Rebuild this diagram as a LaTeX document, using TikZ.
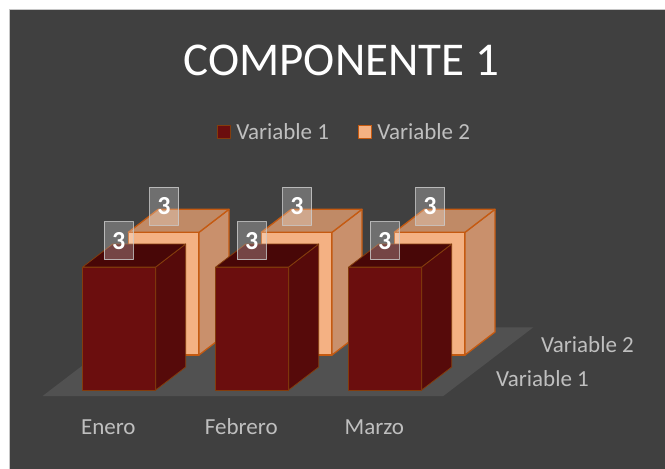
\documentclass[tikz,border=0pt]{standalone}
\usepackage{fontspec}
\setmainfont{Carlito}
\usetikzlibrary{positioning}

\definecolor{chartbg}{HTML}{404040}
\definecolor{floorgray}{HTML}{515151}
\definecolor{redfront}{HTML}{6B0E0E}
\definecolor{redside}{HTML}{560A0A}
\definecolor{redtop}{HTML}{480707}
\definecolor{rededge}{HTML}{843C0C}
\definecolor{orfront}{HTML}{F4B183}
\definecolor{orside}{HTML}{C9906C}
\definecolor{ortop}{HTML}{C08A66}
\definecolor{oredge}{HTML}{C55A11}
\definecolor{labgray}{HTML}{BFBFBF}

% #1 left, #2 top, #3 width, #4 bottom, #5 r or o
\newcommand{\barcube}[5]{%
  \filldraw[#5front] (#1,#2) rectangle (#1+#3,#4);
  \filldraw[#5side] (#1+#3,#2) -- (#1+#3+30,#2-23) -- (#1+#3+30,#4-23) -- (#1+#3,#4) -- cycle;
  \filldraw[#5top] (#1,#2) -- (#1+30,#2-23) -- (#1+#3+30,#2-23) -- (#1+#3,#2) -- cycle;
}

\begin{document}
\begin{tikzpicture}[x=1pt,y=-1pt,line join=round,
    rfront/.style={fill=redfront,draw=rededge,line width=0.8pt},
    rside/.style={fill=redside,draw=rededge,line width=0.8pt},
    rtop/.style={fill=redtop,draw=rededge,line width=0.8pt},
    ofront/.style={fill=orfront,draw=oredge,line width=1.3pt},
    oside/.style={fill=orside,draw=oredge,line width=1.3pt},
    otop/.style={fill=ortop,draw=oredge,line width=1.3pt},
    datalabel/.style={draw=white!80!black,draw opacity=0.8,fill=white,fill opacity=0.25,
      text opacity=1,text=white,font=\bfseries\fontsize{26}{26}\selectfont,
      minimum width=29pt,minimum height=38pt,inner sep=0pt,line width=1pt},
    axislabel/.style={text=labgray,font=\fontsize{23}{23}\selectfont,inner sep=0pt},
    legkey/.style={minimum size=13pt,inner sep=0pt,line width=1.2pt}]

    \useasboundingbox (0,0) rectangle (665,469);
    \clip (0,0) rectangle (665,469);
    \fill[white] (0,0) rectangle (665,469);
    \filldraw[fill=chartbg,draw=gray!45] (9.5,9.5) rectangle (680,480);

    % floor
    \fill[floorgray] (42.6,396) -- (443.3,396) -- (533.3,327.3) -- (132.6,327.3) -- cycle;

    \node[text=white,font=\fontsize{47}{47}\selectfont,anchor=base] (title) at (341.3,75) {COMPONENTE 1};

    % legend
    \node[legkey,fill=redfront,draw=rededge] (key1) at (224,131.8) {};
    \node[axislabel,right=5pt of key1] (key1txt) {Variable 1};
    \node[legkey,fill=orfront,draw=oredge] (key2) at (365,131.8) {};
    \node[axislabel,right=5pt of key2] (key2txt) {Variable 2};

    % back row: Variable 2
    \foreach \i in {0,1,2} {
        \barcube{128.3+133*\i}{232.3}{70.7}{355}{o}
        \node[datalabel] (v2lab\i) at (164+133*\i,206.2) {3};
    }

    % front row: Variable 1
    \foreach \i/\mes in {0/Enero,1/Febrero,2/Marzo} {
        \barcube{82.7+133*\i}{267}{73}{390}{r}
        \node[datalabel] (v1lab\i) at (118.8+133*\i,240.8) {3};
        \node[axislabel,anchor=base] (mes\i) at (108.3+133*\i,434) {\mes};
    }

    \node[axislabel,anchor=base] (ser2) at (587.5,352.7) {Variable 2};
    \node[axislabel,anchor=base] (ser1) at (542.5,386.7) {Variable 1};
\end{tikzpicture}
\end{document}
